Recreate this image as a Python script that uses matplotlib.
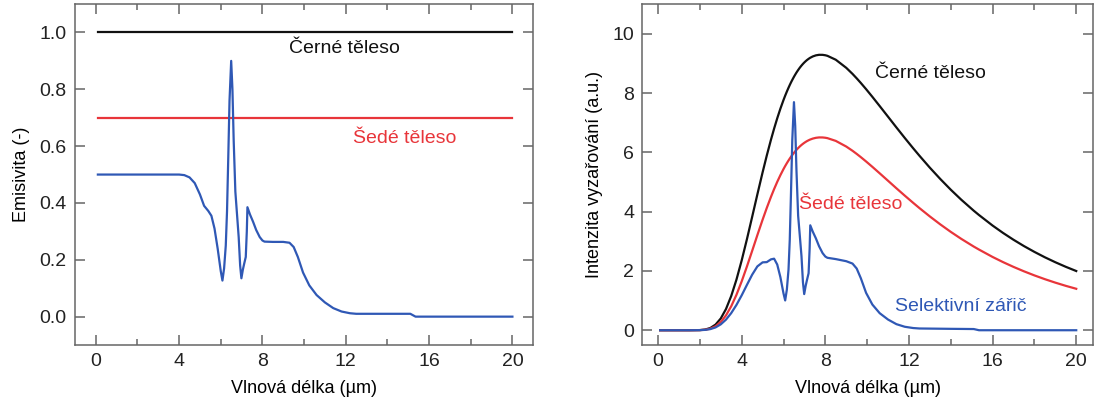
import numpy as np
import matplotlib
matplotlib.use("Agg")
import matplotlib.pyplot as plt
from matplotlib.ticker import MultipleLocator

# wavelength grid (um)
wl = [0.1, 0.5, 1.0, 1.5, 2.0, 2.25, 2.5, 2.75, 3.0, 3.25, 3.5, 3.75, 4.0, 4.25, 4.5, 4.75,
      5.0, 5.2, 5.4, 5.55, 5.7, 5.85, 6.0, 6.08, 6.16, 6.24, 6.3, 6.36, 6.42, 6.5, 6.56,
      6.62, 6.7, 6.78, 6.86, 6.93, 6.99, 7.06, 7.12, 7.2, 7.25, 7.28, 7.4, 7.55, 7.7,
      7.87, 8.0, 8.1, 8.5, 9.0, 9.3, 9.5, 9.7, 9.95, 10.25, 10.6, 11.0, 11.4, 11.8,
      12.2, 12.5, 13.0, 13.5, 14.0, 14.5, 15.1, 15.35, 16.0, 16.5, 17.0, 17.5, 18.0,
      18.5, 19.0, 19.5, 20.0]

# emissivity of the selective emitter
eps_sel = [0.50, 0.50, 0.50, 0.50, 0.50, 0.50, 0.50, 0.50, 0.50, 0.50, 0.50, 0.50, 0.50, 0.498, 0.49, 0.47,
           0.43, 0.39, 0.372, 0.355, 0.31, 0.24, 0.16, 0.127, 0.17, 0.25, 0.37, 0.56, 0.76, 0.90, 0.80,
           0.62, 0.44, 0.36, 0.28, 0.18, 0.135, 0.165, 0.185, 0.21, 0.30, 0.385, 0.36, 0.334, 0.305,
           0.28, 0.268, 0.264, 0.263, 0.263, 0.26, 0.245, 0.21, 0.155, 0.11, 0.076, 0.05, 0.03, 0.018,
           0.012, 0.01, 0.01, 0.01, 0.01, 0.01, 0.01, 0.0, 0.0, 0.0, 0.0, 0.0, 0.0,
           0.0, 0.0, 0.0, 0.0]
eps_black = [1.0] * len(wl)
eps_grey = [0.7] * len(wl)

# spectral intensity (a.u.)
I_black = [0.0, 0.0, 0.0, 0.0, 0.005, 0.023, 0.075, 0.190, 0.397, 0.716, 1.155, 1.707, 2.354, 3.068, 3.820, 4.581,
           5.324, 5.891, 6.424, 6.798, 7.147, 7.469, 7.764, 7.910, 8.048, 8.178, 8.271, 8.359, 8.442, 8.547, 8.620,
           8.690, 8.775, 8.854, 8.925, 8.982, 9.026, 9.073, 9.110, 9.152, 9.176, 9.189, 9.233, 9.270, 9.288,
           9.287, 9.273, 9.254, 9.122, 8.850, 8.645, 8.495, 8.337, 8.130, 7.871, 7.560, 7.200, 6.839, 6.484,
           6.138, 5.886, 5.481, 5.099, 4.739, 4.403, 4.030, 3.885, 3.530, 3.281, 3.051, 2.838, 2.642,
           2.460, 2.293, 2.139, 1.997]
I_grey = [0.0, 0.0, 0.0, 0.0, 0.004, 0.016, 0.053, 0.133, 0.278, 0.501, 0.809, 1.195, 1.648, 2.148, 2.674, 3.207,
          3.727, 4.124, 4.497, 4.759, 5.003, 5.228, 5.435, 5.537, 5.634, 5.725, 5.790, 5.851, 5.909, 5.983, 6.034,
          6.083, 6.143, 6.198, 6.248, 6.287, 6.318, 6.351, 6.377, 6.406, 6.423, 6.432, 6.463, 6.489, 6.502,
          6.501, 6.491, 6.478, 6.385, 6.195, 6.052, 5.947, 5.836, 5.691, 5.510, 5.292, 5.040, 4.787, 4.539,
          4.297, 4.120, 3.837, 3.569, 3.317, 3.082, 2.821, 2.720, 2.471, 2.297, 2.136, 1.987, 1.849,
          1.722, 1.605, 1.497, 1.398]
I_sel = [0.0, 0.0, 0.0, 0.0, 0.003, 0.012, 0.038, 0.095, 0.199, 0.358, 0.578, 0.854, 1.177, 1.528, 1.872, 2.153,
         2.289, 2.297, 2.390, 2.413, 2.216, 1.793, 1.242, 1.005, 1.368, 2.045, 3.060, 4.681, 6.416, 7.692, 6.896,
         5.388, 3.861, 3.187, 2.499, 1.617, 1.219, 1.497, 1.685, 1.922, 2.753, 3.538, 3.324, 3.096, 2.833,
         2.600, 2.485, 2.443, 2.399, 2.328, 2.248, 2.081, 1.751, 1.260, 0.866, 0.575, 0.360, 0.205, 0.117,
         0.074, 0.059, 0.055, 0.051, 0.047, 0.044, 0.040, 0.0, 0.0, 0.0, 0.0, 0.0, 0.0,
         0.0, 0.0, 0.0, 0.0]

c_black = '#111111'
c_red = '#e8353a'
c_blue = '#2f58b5'
c_axis = '#666666'

plt.rcParams['font.family'] = ['Liberation Sans', 'DejaVu Sans']
plt.rcParams['font.size'] = 13

fig = plt.figure(figsize=(10.99, 4.05), dpi=100)
ax1 = fig.add_axes([0.0682, 0.148, 0.417, 0.842])
ax2 = fig.add_axes([0.5845, 0.148, 0.410, 0.842])

## left panel - emissivity
ax1.plot(wl, eps_black, color=c_black, lw=1.6)
ax1.plot(wl, eps_grey, color=c_red, lw=1.6)
ax1.plot(wl, eps_sel, color=c_blue, lw=1.6)
ax1.set_xlim(-1, 21)
ax1.set_ylim(-0.1, 1.1)
ax1.yaxis.set_major_locator(MultipleLocator(0.2))
ax1.yaxis.set_major_formatter(matplotlib.ticker.FormatStrFormatter('%.1f'))
ax1.set_ylabel('Emisivita (-)', labelpad=7)
ax1.text(11.95, 0.945, 'Černé těleso', color=c_black, ha='center', va='center', fontsize=14)
ax1.text(14.83, 0.628, 'Šedé těleso', color=c_red, ha='center', va='center', fontsize=14)

## right panel - intensity
ax2.plot(wl, I_black, color=c_black, lw=1.6)
ax2.plot(wl, I_grey, color=c_red, lw=1.6)
ax2.plot(wl, I_sel, color=c_blue, lw=1.6)
ax2.set_xlim(-0.75, 20.8)
ax2.set_ylim(-0.5, 11)
ax2.yaxis.set_major_locator(MultipleLocator(2))
ax2.set_ylabel('Intenzita vyzařování (a.u.)', labelpad=7)
ax2.text(13.03, 8.65, 'Černé těleso', color=c_black, ha='center', va='center', fontsize=14)
ax2.text(9.2, 4.24, 'Šedé těleso', color=c_red, ha='center', va='center', fontsize=14)
ax2.text(14.46, 0.81, 'Selektivní zářič', color=c_blue, ha='center', va='center', fontsize=14)

for ax in (ax1, ax2):
    ax.xaxis.set_major_locator(MultipleLocator(4))
    ax.xaxis.set_minor_locator(MultipleLocator(2))
    ax.set_xlabel('Vlnová délka (µm)', labelpad=7)
    ax.tick_params(which='both', direction='in', top=True, right=True, color=c_axis, width=1.1,
                   labelcolor='#222222', labelsize=14, pad=6)
    ax.tick_params(which='major', length=7)
    ax.tick_params(which='minor', length=4)
    for s in ax.spines.values():
        s.set_color(c_axis)
        s.set_linewidth(1.1)

fig.savefig('out.png', dpi=100)
